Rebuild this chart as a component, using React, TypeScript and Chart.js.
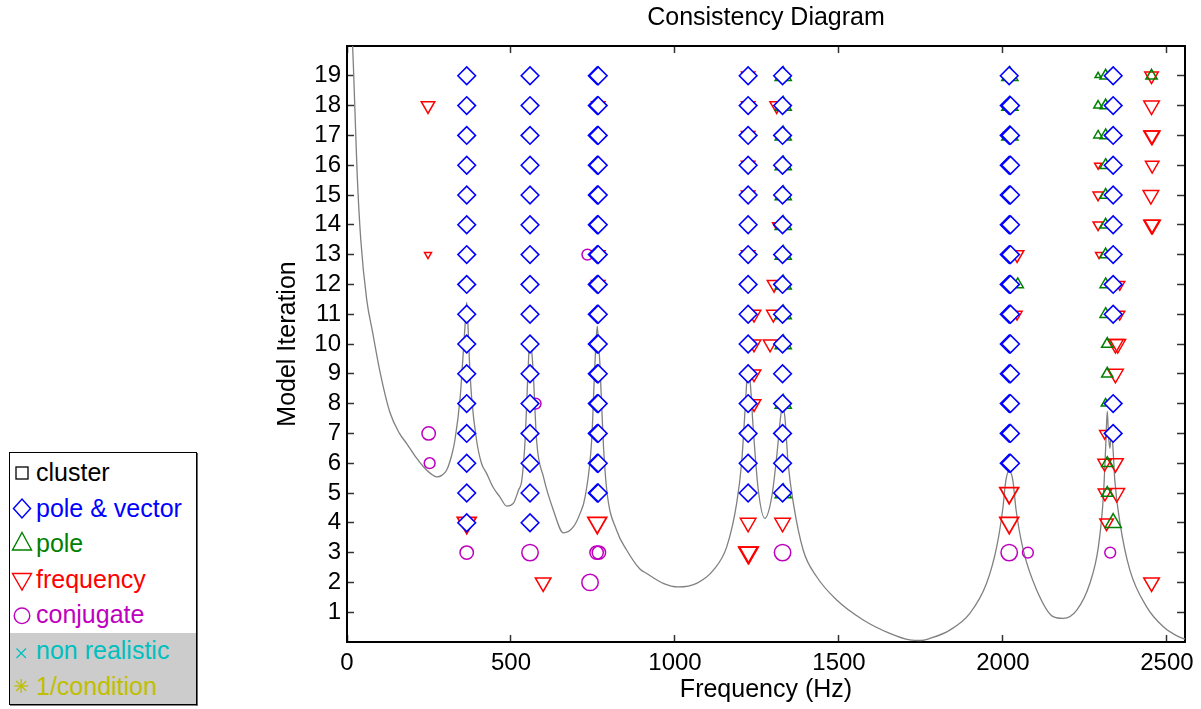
import React, { useEffect, useRef } from 'react';
import { Chart, registerables } from 'chart.js';

Chart.register(...registerables);

// ---------- axis ticks ----------
const xTickValues = [0, 500, 1000, 1500, 2000, 2500];
const yTickValues = [1, 2, 3, 4, 5, 6, 7, 8, 9, 10, 11, 12, 13, 14, 15, 16, 17, 18, 19];
const xMin = 0;
const xMax = 2555;
const yMin = 0;
const yMax = 20;

// ---------- FRF curve (frequency, level in iteration units) ----------
const frfFreq = [
  0, 10, 17, 24, 31, 42, 60, 78, 100, 131, 160, 182, 210, 233, 255, 273, 290, 304, 320, 329,
  345, 355, 361, 365, 369, 373, 380, 395, 410, 426, 445, 466, 487, 507, 523, 533, 543, 553, 558, 563,
  568, 578, 599, 629, 660, 690, 710, 726, 746, 756, 763, 767, 771, 781, 792, 822, 853, 893, 914, 964,
  1010, 1066, 1117, 1158, 1188, 1203, 1213, 1219, 1223, 1229, 1239, 1254, 1274, 1295, 1310, 1322, 1328, 1335, 1345, 1361,
  1391, 1432, 1493, 1574, 1655, 1716, 1750, 1777, 1838, 1899, 1950, 1981, 1999, 2009, 2019, 2030, 2040, 2062, 2103, 2153,
  2184, 2225, 2265, 2291, 2306, 2313, 2318, 2322, 2326, 2331, 2336, 2341, 2357, 2387, 2438, 2489, 2535, 2555,
];
const frfLevel = [
  23.5, 21, 20, 17.9, 15.7, 13.5, 11.5, 10.4, 9.1, 7.7, 7.0, 6.66, 6.2, 5.88, 5.65, 5.54, 5.6, 5.77, 6.3, 6.77,
  8.2, 9.8, 10.8, 11.4, 10.6, 9.5, 8.2, 6.77, 6.0, 5.65, 5.2, 4.87, 4.56, 4.65, 5.1, 5.43, 6.77, 9.35, 10.3, 9.8,
  9.0, 6.77, 5.54, 4.43, 3.66, 3.86, 4.3, 4.87, 6.77, 9.35, 10.6, 10.0, 9.35, 6.77, 5.1, 3.75, 3.08, 2.45, 2.3, 1.97,
  1.85, 1.97, 2.41, 3.2, 4.65, 5.99, 7.67, 8.78, 9.3, 8.78, 7.1, 5.1, 4.15, 4.87, 6.21, 7.55, 7.9, 7.55, 5.99, 4.65,
  3.08, 2.19, 1.41, 0.74, 0.29, 0.07, 0.05, 0.12, 0.4, 0.96, 1.97, 3.2, 4.43, 5.43, 5.75, 5.43, 4.43, 3.08, 1.74, 0.85,
  0.79, 1.07, 1.97, 3.2, 4.87, 6.5, 7.75, 6.9, 6.5, 7.1, 6.4, 5.43, 3.98, 2.41, 1.18, 0.51, 0.18, 0.1,
];

// ---------- pole & vector (diamonds): column frequency + iterations ----------
const pvFreqs = [365, 558, 763, 766, 1223, 1328, 2019, 2023, 2336];
const pvIters = [
  [4, 5, 6, 7, 8, 9, 10, 11, 12, 13, 14, 15, 16, 17, 18, 19],
  [4, 5, 6, 7, 8, 9, 10, 11, 12, 13, 14, 15, 16, 17, 18, 19],
  [5, 6, 7, 8, 9, 10, 11, 12, 13, 14, 15, 16, 17, 18, 19],
  [5, 6, 7, 8, 9, 10, 11, 12, 13, 14, 15, 16, 17, 18, 19],
  [5, 6, 7, 8, 9, 10, 11, 12, 13, 14, 15, 16, 17, 18, 19],
  [5, 6, 7, 8, 9, 10, 11, 12, 13, 14, 15, 16, 17, 18, 19],
  [6, 7, 8, 9, 10, 11, 12, 13, 14, 15, 16, 17, 18, 19],
  [6, 7, 8, 9, 10, 11, 12, 13, 14, 15, 16, 17, 18],
  [7, 8, 11, 12, 13, 14, 15, 16, 17, 18, 19],
];

// ---------- pole (green up-triangles), grouped by marker class ----------
const poleTiny: [number, number][] = [[2290, 19]];
const poleSmall: [number, number][] = [[2290, 18], [2290, 17], [2313, 8]];
const poleMedium: [number, number][] = [
  [2313, 19], [2313, 18], [2313, 17], [2313, 16], [2313, 15], [2313, 14], [2313, 13], [2313, 12], [2313, 11],
  [2318, 10], [2318, 9], [2318, 6], [2318, 5], [2045, 12], [2453, 19],
];
const poleLarge: [number, number][] = [
  [1330, 19], [1330, 18], [1330, 17], [1330, 16], [1330, 15], [1330, 14], [1330, 13], [1330, 12], [1330, 11],
  [1330, 10], [1330, 8], [1330, 5], [2021, 19], [2021, 18], [2021, 17], [2336, 4],
];

// ---------- frequency (red down-triangles) ----------
const freqTiny: [number, number][] = [[247, 13], [2290, 16], [2293, 13], [1308, 14]];
const freqSmall: [number, number][] = [
  [2290, 15], [2290, 14], [2310, 7], [2356, 12], [2356, 11], [2043, 11], [2017, 17],
];
const freqMedium: [number, number][] = [
  [247, 18], [766, 18], [766, 13], [766, 12], [1223, 19], [1223, 18], [1223, 17], [1223, 16], [1223, 15],
  [1223, 13], [1241, 11], [1241, 10], [1241, 9], [1241, 8], [1290, 10], [1300, 11], [1302, 12], [1310, 18],
  [2043, 13], [2310, 6], [2311, 5], [2316, 4], [2453, 19], [2455, 16],
];
const freqLarge: [number, number][] = [
  [598, 2], [1328, 4], [1223, 4], [2343, 10], [2350, 10], [2343, 9], [2343, 6], [2347, 5], [2453, 18],
  [2453, 17], [2455, 17], [2451, 15], [2453, 14], [2456, 14], [2453, 2],
];
const freqXL: [number, number][] = [[365, 4], [763, 4], [1223, 3], [1225, 3], [2019, 5], [2019, 4]];

// ---------- conjugate (magenta circles) ----------
const conjSmall: [number, number][] = [[252, 6], [575, 8], [733, 13], [2076, 3], [2327, 3]];
const conjMedium: [number, number][] = [[249, 7], [365, 3], [761, 3], [768, 3]];
const conjLarge: [number, number][] = [[558, 3], [741, 2], [1328, 3], [2019, 3]];

const FONT = '"Liberation Sans", Arial, Helvetica, sans-serif';
const BLUE = '#0000ff';
const GREEN = '#008000';
const RED = '#ff0000';
const MAGENTA = '#bf00bf';
const CYAN = '#00bfbf';
const OLIVE = '#bfbf00';

function Legend() {
  const rows = [
    { text: 'cluster', color: '#000000', base: 481 },
    { text: 'pole & vector', color: BLUE, base: 516.5 },
    { text: 'pole', color: GREEN, base: 552 },
    { text: 'frequency', color: RED, base: 587.7 },
    { text: 'conjugate', color: MAGENTA, base: 623.3 },
    { text: 'non realistic', color: CYAN, base: 659 },
    { text: '1/condition', color: OLIVE, base: 694.7 },
  ];
  const cx = 22;
  return (
    <svg
      width={210}
      height={709}
      style={{ position: 'absolute', left: 0, top: 0, pointerEvents: 'none' }}
    >
      <rect x={9.5} y={452.5} width={187} height={252} fill="#ffffff" stroke="#000" strokeWidth={1} />
      <rect x={10} y={633} width={186} height={71} fill="#cccccc" />
      <line x1={197} y1={453} x2={197} y2={705.5} stroke="#000" strokeWidth={1.2} />
      <line x1={10} y1={705} x2={197.5} y2={705} stroke="#000" strokeWidth={1.2} />
      <rect x={16} y={467} width={12} height={12} fill="none" stroke="#000" strokeWidth={1.3} />
      <polygon points={`${cx - 8.5},508.5 ${cx},499 ${cx + 8.5},508.5 ${cx},518`} fill="none" stroke={BLUE} strokeWidth={1.5} />
      <polygon points={`${cx},532.5 ${cx + 9.5},550 ${cx - 9.5},550`} fill="none" stroke={GREEN} strokeWidth={1.4} />
      <polygon points={`${cx - 9.5},573.5 ${cx + 9.5},573.5 ${cx},590`} fill="none" stroke={RED} strokeWidth={1.4} />
      <circle cx={cx} cy={615.8} r={7.8} fill="none" stroke={MAGENTA} strokeWidth={1.4} />
      <g stroke={CYAN} strokeWidth={1.3}>
        <line x1={16.5} y1={648.5} x2={26} y2={658} />
        <line x1={26} y1={648.5} x2={16.5} y2={658} />
      </g>
      <g stroke={OLIVE} strokeWidth={1.3}>
        <line x1={21.2} y1={679} x2={21.2} y2={693} />
        <line x1={14.2} y1={686} x2={28.2} y2={686} />
        <line x1={16.2} y1={681} x2={26.2} y2={691} />
        <line x1={26.2} y1={681} x2={16.2} y2={691} />
      </g>
      {rows.map((r) => (
        <text key={r.text} x={36} y={r.base} fill={r.color} fontFamily={FONT} fontSize={25}>
          {r.text}
        </text>
      ))}
    </svg>
  );
}

export default function App() {
  const canvasRef = useRef<HTMLCanvasElement | null>(null);

  useEffect(() => {
    const canvas = canvasRef.current;
    if (!canvas) return;

    const toPts = (pairs: [number, number][]) => pairs.map(([x, y]) => ({ x, y }));

    const pvPairs: [number, number][] = [];
    pvFreqs.forEach((f, i) => pvIters[i].forEach((it) => pvPairs.push([f, it])));

    const marker = (
      label: string,
      pairs: [number, number][],
      style: string,
      radius: number,
      color: string,
      rotation = 0,
      width = 1.5,
      fillColor = 'rgba(0,0,0,0)'
    ) => ({
      type: 'scatter' as const,
      label,
      data: toPts(pairs),
      showLine: false,
      pointStyle: style,
      pointRadius: radius,
      pointHoverRadius: radius,
      pointRotation: rotation,
      pointBorderColor: color,
      pointBackgroundColor: fillColor,
      pointBorderWidth: width,
      pointHoverBorderWidth: width,
    });

    const curve = {
      type: 'scatter' as const,
      label: 'FRF',
      data: frfFreq.map((f, i) => ({ x: f, y: frfLevel[i] })),
      showLine: true,
      borderColor: '#808080',
      borderWidth: 1.3,
      pointRadius: 0,
      pointHoverRadius: 0,
      cubicInterpolationMode: 'monotone' as const,
      fill: false,
    };

    const tickFont = { family: FONT, size: 24 };
    const titleFont = { family: FONT, size: 25, lineHeight: 1 };
    const gridCommon = (len: number) => ({
      display: true,
      drawOnChartArea: false,
      drawTicks: true,
      tickLength: len,
      tickColor: '#333333',
      tickWidth: 1.5,
    });
    const borderCommon = { display: true, color: '#000000', width: 2 };
    const plainLabel = (v: any) => String(v);

    const chart = new Chart(canvas, {
      type: 'scatter',
      data: {
        datasets: [
          marker('pole & vector', pvPairs, 'rectRot', 8.8, BLUE, 0, 1.6, '#ffffff'),
          marker('pole', poleTiny, 'triangle', 3.5, GREEN),
          marker('pole', poleSmall, 'triangle', 5, GREEN),
          marker('pole', poleMedium, 'triangle', 6.5, GREEN),
          marker('pole', poleLarge, 'triangle', 9.3, GREEN),
          marker('frequency', freqTiny, 'triangle', 4, RED, 180),
          marker('frequency', freqSmall, 'triangle', 5.8, RED, 180),
          marker('frequency', freqMedium, 'triangle', 7.8, RED, 180),
          marker('frequency', freqLarge, 'triangle', 9, RED, 180),
          marker('frequency', freqXL, 'triangle', 10.8, RED, 180, 1.8),
          marker('conjugate', conjSmall, 'circle', 5.4, MAGENTA),
          marker('conjugate', conjMedium, 'circle', 6.7, MAGENTA),
          marker('conjugate', conjLarge, 'circle', 8.2, MAGENTA),
          curve,
        ] as any,
      },
      options: {
        responsive: false,
        animation: false,
        devicePixelRatio: 1,
        events: [],
        layout: { padding: { left: 270, right: 0, top: 0, bottom: 0 } },
        plugins: {
          legend: { display: false },
          tooltip: { enabled: false },
          title: {
            display: true,
            text: 'Consistency Diagram',
            fullSize: false,
            color: '#000000',
            font: { family: FONT, size: 25, weight: 'normal', lineHeight: 1 },
            padding: { top: 6, bottom: 15 },
          },
        },
        scales: {
          x: {
            type: 'linear',
            position: 'bottom',
            min: xMin,
            max: xMax,
            afterBuildTicks: (s: any) => {
              s.ticks = xTickValues.map((v) => ({ value: v }));
            },
            afterFit: (s: any) => {
              s.height = 67;
              s.paddingLeft = 0;
              s.paddingRight = 0;
            },
            grid: gridCommon(-7),
            border: borderCommon,
            ticks: {
              color: '#000000',
              font: tickFont,
              padding: 14,
              maxRotation: 0,
              autoSkip: false,
              callback: plainLabel,
            },
            title: {
              display: true,
              text: 'Frequency (Hz)',
              color: '#000000',
              font: titleFont,
              padding: { top: 0, bottom: 6 },
            },
          },
          x2: {
            type: 'linear',
            axis: 'x',
            position: 'top',
            min: xMin,
            max: xMax,
            afterBuildTicks: (s: any) => {
              s.ticks = xTickValues.map((v) => ({ value: v }));
            },
            afterFit: (s: any) => {
              s.height = 0;
              s.paddingLeft = 0;
              s.paddingRight = 0;
            },
            grid: gridCommon(-7),
            border: borderCommon,
            ticks: { display: false },
          },
          y: {
            type: 'linear',
            position: 'left',
            min: yMin,
            max: yMax,
            afterBuildTicks: (s: any) => {
              s.ticks = yTickValues.map((v) => ({ value: v }));
            },
            afterFit: (s: any) => {
              s.width = 77;
              s.paddingTop = 0;
              s.paddingBottom = 0;
            },
            grid: gridCommon(-7),
            border: borderCommon,
            ticks: { color: '#000000', font: tickFont, padding: 13, autoSkip: false, callback: plainLabel },
            title: {
              display: true,
              text: 'Model Iteration',
              color: '#000000',
              font: titleFont,
              padding: { top: 6, bottom: 0 },
            },
          },
          y2: {
            type: 'linear',
            axis: 'y',
            position: 'right',
            min: yMin,
            max: yMax,
            afterBuildTicks: (s: any) => {
              s.ticks = yTickValues.map((v) => ({ value: v }));
            },
            afterFit: (s: any) => {
              s.width = 16;
              s.paddingTop = 0;
              s.paddingBottom = 0;
            },
            grid: gridCommon(-8),
            border: borderCommon,
            ticks: { display: false },
          },
        },
      } as any,
    });

    return () => {
      chart.destroy();
    };
  }, []);

  return (
    <div
      style={{
        position: 'absolute',
        left: 0,
        top: 0,
        width: 1201,
        height: 709,
        background: '#ffffff',
        overflow: 'hidden',
      }}
    >
      <canvas
        ref={canvasRef}
        width={1201}
        height={709}
        style={{ display: 'block', width: 1201, height: 709 }}
      />
      <Legend />
    </div>
  );
}
